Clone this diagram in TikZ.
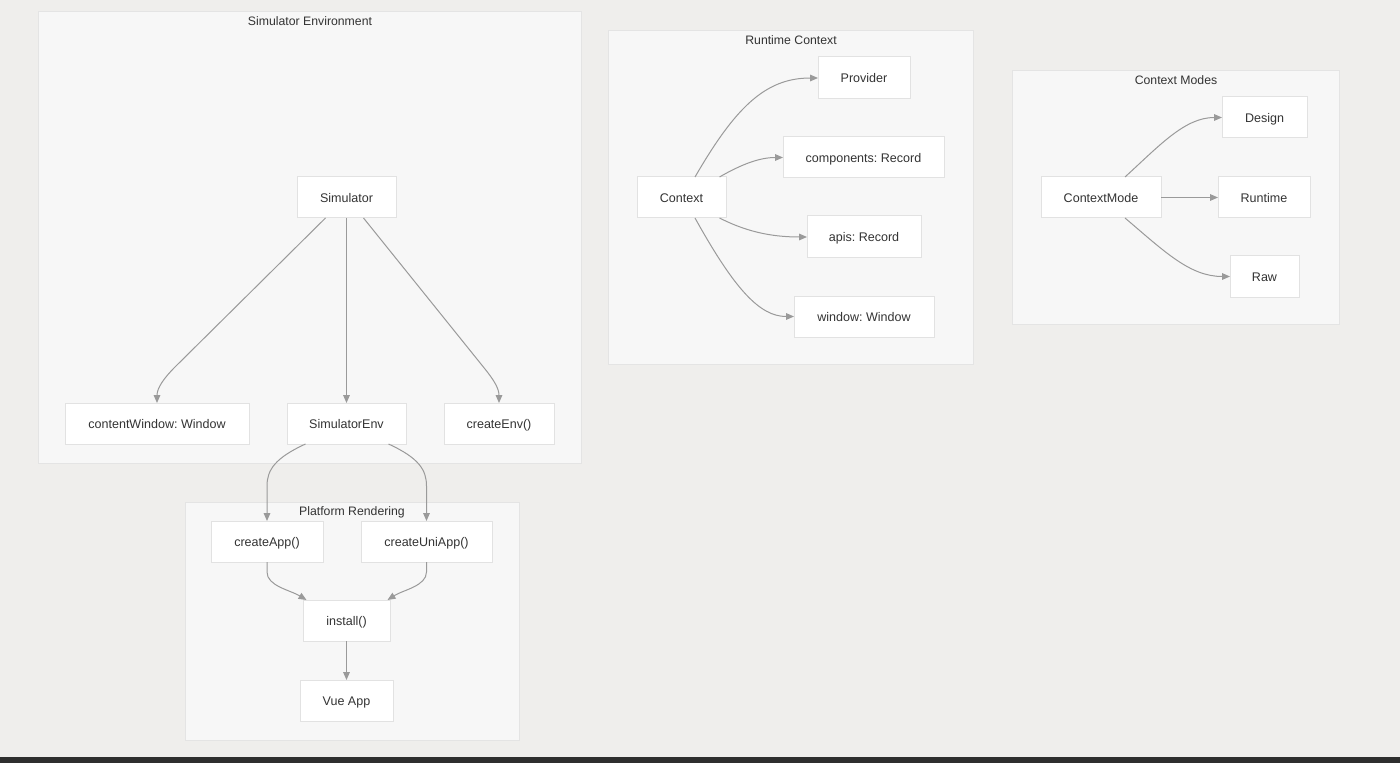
\documentclass[tikz,border=0pt]{standalone}
\usepackage{fontspec}
\setmainfont{Liberation Sans}
\usetikzlibrary{arrows.meta,calc}
\definecolor{bgc}{HTML}{EFEEEC}
\definecolor{clfill}{HTML}{F7F7F7}
\definecolor{cldraw}{HTML}{E4E4E4}
\definecolor{bxdraw}{HTML}{E2E2E2}
\definecolor{txt}{HTML}{333333}
\definecolor{edgec}{HTML}{9A9A9A}
\definecolor{barc}{HTML}{2E2E2E}
\tikzset{
  box/.style={draw=bxdraw, fill=white, line width=0.75pt, inner sep=0pt, outer sep=0pt,
    minimum height=30.75pt, text=txt, font=\fontsize{9.4}{11}\selectfont,
    text height=6.8pt, text depth=0pt},
  cluster/.style={draw=cldraw, fill=clfill, line width=0.75pt},
  cltitle/.style={text=txt, font=\fontsize{9.2}{11}\selectfont, inner sep=0pt,
    text height=6.6pt, text depth=0pt},
  edge/.style={draw=edgec, line width=0.75pt, -{Triangle[length=6pt,width=5pt]}}
}
\begin{document}
\frenchspacing
\begin{tikzpicture}[x=0.75pt,y=-0.75pt]
\useasboundingbox (0,0) rectangle (1400,763);
\fill[bgc] (0,0) rectangle (1400,763);
\fill[barc] (0,757) rectangle (1400,763);
% clusters
\draw[cluster] (38,12) rectangle (581,463);
\node[cltitle] (t1) at (310,21.5) {Simulator Environment};
\draw[cluster] (185,502) rectangle (519,740);
\node[cltitle] (t2) at (352,511.5) {Platform Rendering};
\draw[cluster] (608,31) rectangle (973,364);
\node[cltitle] (t3) at (791,40.5) {Runtime Context};
\draw[cluster] (1012,71) rectangle (1339,324);
\node[cltitle] (t4) at (1176,80.5) {Context Modes};
% nodes
\node[box, minimum width=74.25pt] (sim) at (346.5,197.5) {Simulator};
\node[box, minimum width=138pt] (cw) at (157,423.5) {contentWindow: Window};
\node[box, minimum width=89.25pt] (senv) at (346.5,423.5) {SimulatorEnv};
\node[box, minimum width=82.5pt] (cenv) at (499,423.5) {createEnv()};
\node[box, minimum width=84pt] (capp) at (267,541.5) {createApp()};
\node[box, minimum width=98.25pt] (cuni) at (426.5,541.5) {createUniApp()};
\node[box, minimum width=65.25pt] (inst) at (346.5,620.5) {install()};
\node[box, minimum width=69.75pt] (vue) at (346.5,700.5) {Vue App};
\node[box, minimum width=69pt, minimum height=31.5pt] (prov) at (864,78) {Provider};
\node[box, minimum width=120.75pt] (comp) at (863.5,157.5) {components: Record};
\node[box, minimum width=66.75pt] (ctx) at (681.5,197.5) {Context};
\node[box, minimum width=85.5pt, minimum height=31.5pt] (apis) at (864,237) {apis: Record};
\node[box, minimum width=105pt] (win) at (864,316.5) {window: Window};
\node[box, minimum width=63.75pt] (des) at (1264.5,117.5) {Design};
\node[box, minimum width=90pt] (cm) at (1101,197.5) {ContextMode};
\node[box, minimum width=69pt] (rt) at (1264,197.5) {Runtime};
\node[box, minimum width=51.75pt] (raw) at (1264.5,276.5) {Raw};
% edges
\draw[edge] ($(sim.south)+(-21,0)$) -- (175,367) .. controls (164,378) and (157,388) .. (cw.north);
\draw[edge] (sim.south) -- (senv.north);
\draw[edge] ($(sim.south)+(17,0)$) -- (485,369) .. controls (493,379) and (499,388) .. (cenv.north);
\draw[edge] ($(senv.south)+(-41,0)$) .. controls (275,458) and (267,470) .. (267,486) -- (capp.north);
\draw[edge] ($(senv.south)+(42,0)$) .. controls (419,458) and (426.5,470) .. (426.5,486) -- (cuni.north);
\draw[edge] (capp.south) -- (267,572) .. controls (267,586) and (290,590) .. ($(inst.north)+(-40,0)$);
\draw[edge] (cuni.south) -- (426.5,572) .. controls (426.5,586) and (403,590) .. ($(inst.north)+(41,0)$);
\draw[edge] (inst.south) -- (vue.north);
\draw[edge] ($(ctx.north)+(13.5,0)$) .. controls (735,108) and (765,78) .. (prov.west);
\draw[edge] ($(ctx.north)+(38,0)$) .. controls (742,164) and (760,157.5) .. (comp.west);
\draw[edge] ($(ctx.south)+(38,0)$) .. controls (745,231) and (770,237) .. (apis.west);
\draw[edge] ($(ctx.south)+(13.5,0)$) .. controls (735,290) and (760,316.5) .. (win.west);
\draw[edge] ($(cm.north)+(24,0)$) .. controls (1160,145) and (1185,117.5) .. (des.west);
\draw[edge] (cm.east) -- (rt.west);
\draw[edge] ($(cm.south)+(24,0)$) .. controls (1165,252) and (1190,276.5) .. (raw.west);
\end{tikzpicture}
\end{document}
